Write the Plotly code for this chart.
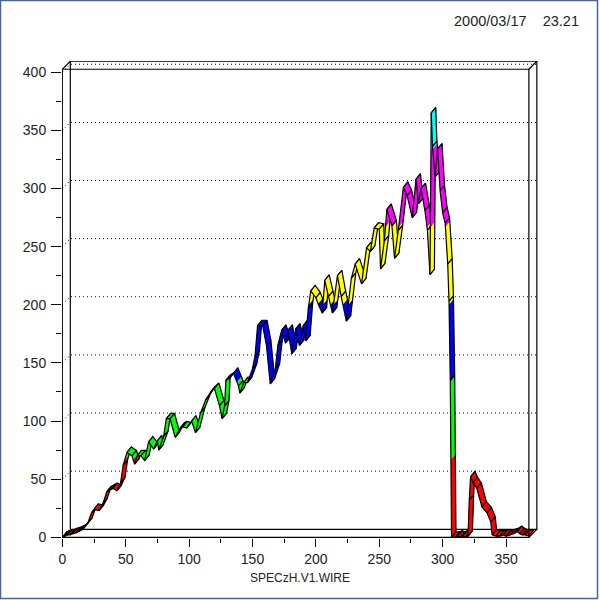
import plotly.graph_objects as go

# bin position and height along the wire
wire_pos = [
    0, 2, 4, 6, 8, 11, 13, 15, 17, 20, 23, 25, 29, 32, 35, 38, 40, 43, 46, 48,
    51, 55, 57, 59, 62, 65, 68, 72, 75, 76, 80, 82, 85, 89, 93, 95, 98, 102, 105,
    109, 113, 117, 120, 124, 126, 128, 129, 132, 135, 139, 140, 143, 146, 150,
    152, 154, 158, 161, 164, 168, 170, 173, 176, 178, 181, 184, 187, 190, 192,
    194, 196, 200, 202, 205, 207, 210, 213, 217, 220, 224, 228, 231, 236, 240,
    243, 246, 250, 251, 254, 256, 260, 262, 265, 269, 272, 276, 279, 281, 283,
    286, 288, 290, 291, 292, 294, 296, 298, 300, 302, 304, 305, 306, 307, 310,
    312, 314, 316, 318, 320, 321, 322, 324, 327, 331, 335, 338, 339, 342, 345,
    348, 350, 353, 356, 359, 361, 363, 365, 368,
]
wire_counts = [
    0, 1, 2, 2, 3, 4, 5, 6, 8, 12, 21, 24, 23, 29, 39, 41, 42, 40, 47, 62,
    73, 70, 63, 70, 70, 66, 82, 76, 83, 75, 87, 102, 102, 86, 94, 95, 94, 100, 90,
    107, 118, 125, 128, 113, 102, 113, 135, 137, 141, 130, 124, 133, 133, 145,
    156, 182, 182, 165, 132, 145, 165, 178, 167, 178, 158, 179, 165, 182, 169,
    197, 212, 206, 200, 193, 221, 207, 193, 225, 207, 186, 223, 235, 218, 249,
    246, 266, 265, 231, 255, 282, 268, 240, 264, 301, 294, 275, 308, 287, 300,
    281, 264, 226, 365, 336, 310, 334, 298, 279, 270, 235, 203, 135, 0, 0,
    1, 0, 1, 0, 1, 32, 52, 47, 42, 26, 21, 13, 2, 1, 1,
    2, 1, 2, 3, 5, 3, 2, 2, 1,
]

level_edges = [66.7, 133.3, 200, 266.7, 333.3]
level_colors = ["#ff0000", "#00ff00", "#0000ff", "#ffff00", "#ff00ff", "#00ffff"]

grid_levels = [50, 100, 150, 200, 250, 300, 350, 400]
x_major = [0, 50, 100, 150, 200, 250, 300, 350]
x_minor = [25, 75, 125, 175, 225, 275, 325]
y_major = [0, 50, 100, 150, 200, 250, 300, 350, 400]
y_minor = [25, 75, 125, 175, 225, 275, 325, 375]

# box and ribbon depth, in data units
X_END = 368
Y_END = 402.6
WALL_DX = 6.3
WALL_DY = 6.9
RIBBON_DX = 3.5
RIBBON_DY = 4.7


def band_of(value):
    band = 0
    for edge in level_edges:
        if value > edge:
            band += 1
    return band


def split_segment(x0, v0, x1, v1):
    # cut one ribbon cell where it crosses a colour level
    cuts = [(x0, v0)]
    lo, hi = min(v0, v1), max(v0, v1)
    crossed = [e for e in level_edges if lo < e < hi]
    if v1 < v0:
        crossed.reverse()
    for edge in crossed:
        cuts.append((x0 + (x1 - x0) * (edge - v0) / (v1 - v0), edge))
    cuts.append((x1, v1))
    return cuts


fig = go.Figure()

# dotted grid on the back and side walls
for level in grid_levels:
    fig.add_trace(go.Scatter(
        x=[0, WALL_DX, X_END + WALL_DX],
        y=[level, level + WALL_DY, level + WALL_DY],
        mode="lines",
        line=dict(color="black", width=1, dash="1px,3px"),
    ))

# back of the box
fig.add_trace(go.Scatter(
    x=[WALL_DX, WALL_DX, X_END + WALL_DX, X_END + WALL_DX, WALL_DX],
    y=[WALL_DY, Y_END + WALL_DY, Y_END + WALL_DY, WALL_DY, WALL_DY],
    mode="lines",
    line=dict(color="black", width=1.2),
))

# each cell is its own trace, a shared path would cancel where cells overlap
for i in range(len(wire_pos) - 1):
    x0, v0 = wire_pos[i], wire_counts[i]
    x1, v1 = wire_pos[i + 1], wire_counts[i + 1]
    cuts = split_segment(x0, v0, x1, v1)
    for (xa, va), (xb, vb) in zip(cuts[:-1], cuts[1:]):
        color = level_colors[band_of((va + vb) / 2)]
        fig.add_trace(go.Scatter(
            x=[xa, xb, xb + RIBBON_DX, xa + RIBBON_DX, xa],
            y=[va, vb, vb + RIBBON_DY, va + RIBBON_DY, va],
            mode="lines", fill="toself", fillcolor=color,
            line=dict(width=0, color=color, simplify=False),
        ))
    fig.add_trace(go.Scatter(
        x=[x0, x1, x1 + RIBBON_DX, x0 + RIBBON_DX, x0],
        y=[v0, v1, v1 + RIBBON_DY, v0 + RIBBON_DY, v0],
        mode="lines",
        line=dict(color="black", width=1.2, simplify=False),
    ))

# front of the box and corner joins
fig.add_trace(go.Scatter(
    x=[0, X_END, X_END, 0, 0, None,
       0, WALL_DX, None,
       X_END, X_END + WALL_DX, None,
       X_END, X_END + WALL_DX],
    y=[0, 0, Y_END, Y_END, 0, None,
       Y_END, Y_END + WALL_DY, None,
       Y_END, Y_END + WALL_DY, None,
       0, WALL_DY],
    mode="lines",
    line=dict(color="black", width=1.2),
))

fig.update_layout(
    width=600,
    height=600,
    showlegend=False,
    hovermode=False,
    paper_bgcolor="white",
    plot_bgcolor="white",
    margin=dict(l=62, r=62, t=61, b=62, pad=0),
    font=dict(family="Liberation Sans", size=14, color="#222222"),
    shapes=[dict(
        type="rect", xref="paper", yref="paper",
        x0=(0.5 - 62) / 476, x1=(597.5 - 62) / 476,
        y0=(538 - 598.5) / 477, y1=(538 - 0.5) / 477,
        line=dict(color="#3f66a8", width=1.5),
    )],
    annotations=[
        dict(text="2000/03/17&nbsp;&nbsp;&nbsp;&nbsp;23.21", xref="paper", yref="paper",
             x=(581 - 62) / 476, y=(538 - 21) / 477, xanchor="right", yanchor="middle",
             showarrow=False, font=dict(size=14.5, color="#222222")),
        dict(text="SPECzH.V1.WIRE", xref="paper", yref="paper",
             x=(300 - 62) / 476, y=(538 - 578) / 477, xanchor="center", yanchor="middle",
             showarrow=False, font=dict(size=12, color="#222222")),
    ],
)
fig.update_xaxes(
    range=[-0.24, 375.2], showgrid=False, zeroline=False, showline=False,
    tickmode="array", tickvals=x_major, ticks="outside", ticklen=8, tickcolor="black",
    tickwidth=1, minor=dict(tickmode="array", tickvals=x_minor, ticks="outside",
                            ticklen=4, tickcolor="black", tickwidth=1),
)
fig.update_yaxes(
    range=[-0.6, 409.7], showgrid=False, zeroline=False, showline=False,
    tickmode="array", tickvals=y_major, ticks="outside", ticklen=10, tickcolor="black",
    tickwidth=1, ticklabelstandoff=2, minor=dict(tickmode="array", tickvals=y_minor,
                                                 ticks="outside", ticklen=5,
                                                 tickcolor="black", tickwidth=1),
)

fig.write_html("out.html", config={"displayModeBar": False},
               post_script="document.body.style.margin='0';")
